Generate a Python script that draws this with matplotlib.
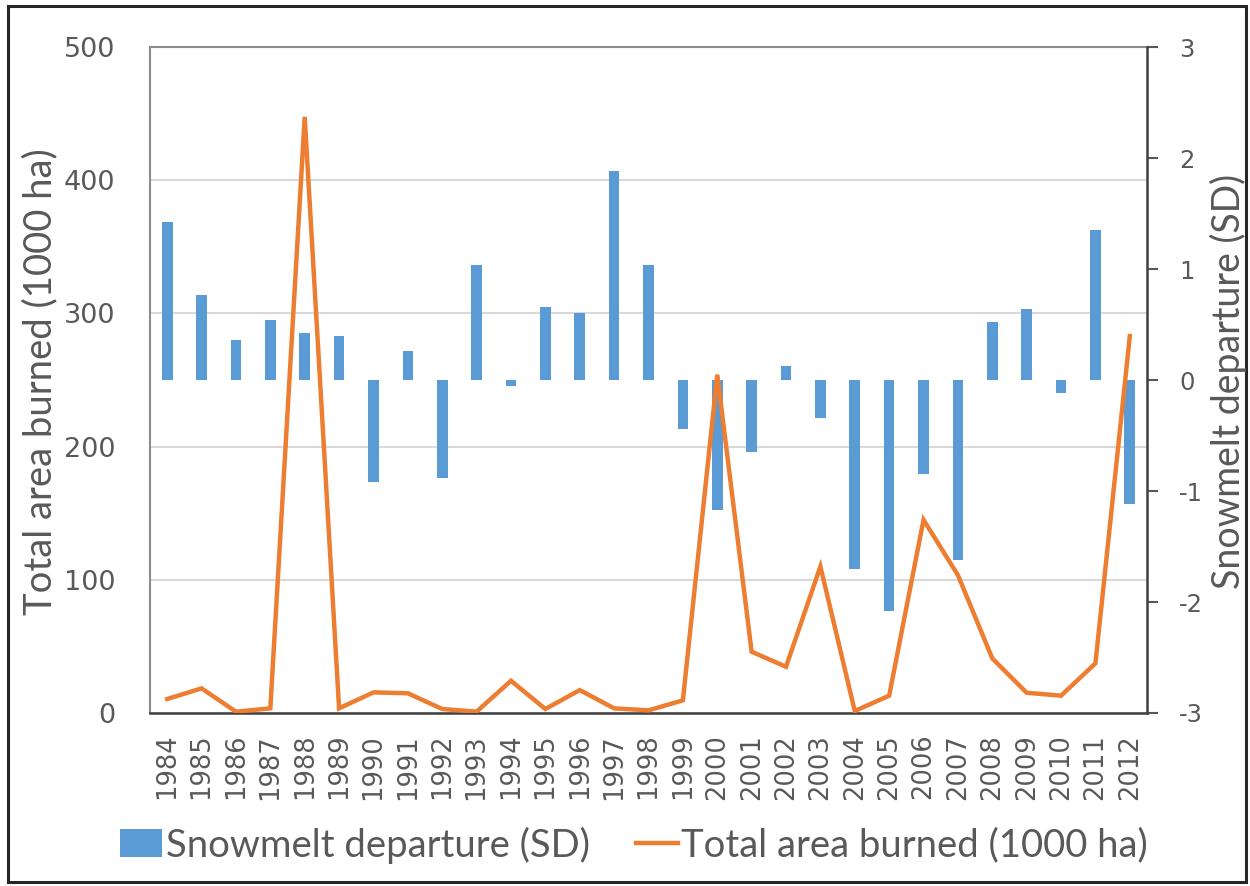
import matplotlib
matplotlib.use("Agg")
import matplotlib.pyplot as plt
from matplotlib.patches import Rectangle, Patch
from matplotlib.lines import Line2D

years = [str(y) for y in range(1984, 2013)]
snowmelt_sd = [1.42, 0.77, 0.36, 0.54, 0.42, 0.40, -0.92, 0.26, -0.88, 1.04,
               -0.05, 0.66, 0.60, 1.88, 1.04, -0.44, -1.17, -0.65, 0.13, -0.34,
               -1.70, -2.08, -0.85, -1.62, 0.52, 0.64, -0.12, 1.35, -1.12]
area_burned = [10.5, 18.5, 1, 3.5, 447.5, 3.5, 15.5, 14.8, 3, 1,
               24.2, 3, 17.2, 3.5, 2, 9.5, 254, 46, 34.7, 110,
               1.5, 13, 145, 103.5, 41, 15.2, 13, 37.3, 283]
left_ticks = [0, 100, 200, 300, 400, 500]
right_ticks = [-3, -2, -1, 0, 1, 2, 3]

plt.rcParams['axes.unicode_minus'] = False
TXT = '#595959'
BLUE = '#5B9BD5'
ORANGE = '#ED7D31'
LABEL_FONT = ['Lato', 'DejaVu Sans']
TICK_FONT = ['DejaVu Sans']

W, H = 1250, 886
fig = plt.figure(figsize=(W / 100, H / 100), dpi=100)
ax = fig.add_axes([150 / W, (H - 713) / H, (1147 - 150) / W, (713 - 47) / H])
ax2 = ax.twinx()   # bars (SD)
ax3 = ax.twinx()   # line (area), drawn on top

x = list(range(len(years)))

# grid/left axis
ax.set_xlim(-0.5, len(years) - 0.5)
ax.set_ylim(0, 500)
ax.set_yticks(left_ticks)
ax.yaxis.grid(True, color='#D9D9D9', linewidth=1.5)
ax.set_axisbelow(True)
ax.tick_params(axis='y', length=0, pad=25, labelsize=19.5, labelcolor=TXT)
ax.set_xticks(x)
ax.set_xticklabels(years, rotation=90, fontsize=18.5, color=TXT, family=TICK_FONT)
ax.tick_params(axis='x', length=0, pad=15)
for lab in ax.get_yticklabels():
    lab.set_family(TICK_FONT)

# bars
ax2.bar(x, snowmelt_sd, width=0.31, color=BLUE, zorder=2)
ax2.set_ylim(-3, 3)
ax2.set_yticks(right_ticks)
ax2.tick_params(axis='y', length=8, width=1.5, color='#595959', pad=15,
                labelsize=17.5, labelcolor=TXT)
for lab in ax2.get_yticklabels():
    lab.set_family(TICK_FONT)

# line
ax3.plot(x, area_burned, color=ORANGE, linewidth=3.2, solid_joinstyle='miter', zorder=3)
ax3.set_ylim(0, 500)
ax3.set_yticks([])

for a in (ax, ax2, ax3):
    for s in a.spines.values():
        s.set_visible(False)
ax.spines['left'].set_visible(True)
ax.spines['left'].set_color('#8C8C8C')
ax.spines['left'].set_linewidth(1.5)
ax.spines['bottom'].set_visible(True)
ax.spines['bottom'].set_color('#404040')
ax.spines['bottom'].set_linewidth(1.8)
ax.spines['top'].set_visible(True)
ax.spines['top'].set_color('#8C8C8C')
ax.spines['top'].set_linewidth(1.5)
ax2.spines['right'].set_visible(True)
ax2.spines['right'].set_color('#404040')
ax2.spines['right'].set_linewidth(1.8)

# axis labels
fig.text(40 / W, (H - 382) / H, 'Total area burned (1000 ha)', rotation=90,
         ha='center', va='center', fontsize=27.5, color=TXT, family=LABEL_FONT)
fig.text(1228 / W, (H - 381) / H, 'Snowmelt departure (SD)', rotation=90,
         ha='center', va='center', fontsize=27, color=TXT, family=LABEL_FONT)

# legend
handles = [Patch(facecolor=BLUE, edgecolor='none'),
           Line2D([0], [0], color=ORANGE, linewidth=3.2)]
labels = ['Snowmelt departure (SD)', 'Total area burned (1000 ha)']
leg = fig.legend(handles, labels, loc='center', bbox_to_anchor=(634 / W, (H - 845) / H),
                 ncol=2, frameon=False, handlelength=1.1, handleheight=0.75,
                 handletextpad=0.1, columnspacing=1.2,
                 prop={'family': LABEL_FONT, 'size': 27.5})
for t in leg.get_texts():
    t.set_color(TXT)

# figure border
fig.patches.append(Rectangle((8 / W, 4 / H), (1246 - 8) / W, (880 - 4) / H,
                             transform=fig.transFigure, fill=False,
                             edgecolor='#262626', linewidth=2.2))

fig.savefig('out.png', dpi=100)
